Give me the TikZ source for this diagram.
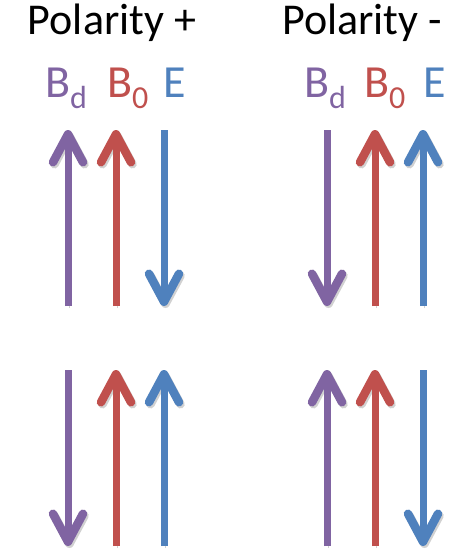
\documentclass[tikz,border=0pt]{standalone}
\usepackage{fontspec}
\setmainfont{Carlito}
\usetikzlibrary{arrows.meta}
\definecolor{bdpurple}{RGB}{128,100,162}
\definecolor{bzred}{RGB}{192,80,77}
\definecolor{efblue}{RGB}{79,129,189}
\newcommand{\lsub}[1]{\raisebox{-0.24em}{\fontsize{32}{36}\selectfont #1}}

\begin{document}
\begin{tikzpicture}[
  x=1pt,y=-1pt,
  ttl/.style={font=\fontsize{44}{52}\selectfont,anchor=base,inner sep=0pt},
  lbl/.style={font=\fontsize{46}{54}\selectfont,anchor=base west,inner sep=0pt},
  vec/.style={line width=7pt,-{Straight Barb[length=28pt,width=30pt,line width=8.5pt,round]},
    preaction={draw=black,opacity=.18,transform canvas={shift={(1.5pt,-2pt)}}}}
]
\useasboundingbox (0,0) rectangle (462,552);

% ---- titles and field labels
\node[ttl] (tplus) at (112,34) {Polarity +};
\node[ttl] (tminus) at (362,34) {Polarity -};
\node[lbl,text=bdpurple] (lbdp) at (45,97) {B\lsub{d}};
\node[lbl,text=bzred] (lb0p) at (107,97) {B\lsub{0}};
\node[lbl,text=efblue] (lep) at (163,97) {E};
\node[lbl,text=bdpurple] (lbdm) at (304,97) {B\lsub{d}};
\node[lbl,text=bzred] (lb0m) at (364,97) {B\lsub{0}};
\node[lbl,text=efblue] (lem) at (423,97) {E};

% ---- end points : polarity +
\coordinate (pa1t) at (68,130);  \coordinate (pa1b) at (68,306);
\coordinate (pb1t) at (116,130); \coordinate (pb1b) at (116,306);
\coordinate (pc1t) at (164,130); \coordinate (pc1b) at (164,306);
\coordinate (pa2t) at (68,370);  \coordinate (pa2b) at (68,546);
\coordinate (pb2t) at (116,370); \coordinate (pb2b) at (116,546);
\coordinate (pc2t) at (164,370); \coordinate (pc2b) at (164,546);
% ---- end points : polarity -
\coordinate (ma1t) at (327,130); \coordinate (ma1b) at (327,306);
\coordinate (mb1t) at (375,130); \coordinate (mb1b) at (375,306);
\coordinate (mc1t) at (423,130); \coordinate (mc1b) at (423,306);
\coordinate (ma2t) at (327,370); \coordinate (ma2b) at (327,546);
\coordinate (mb2t) at (375,370); \coordinate (mb2b) at (375,546);
\coordinate (mc2t) at (423,370); \coordinate (mc2b) at (423,546);

% ---- polarity + arrows
\draw[vec,bdpurple] (pa1b) -- (pa1t);
\draw[vec,bzred] (pb1b) -- (pb1t);
\draw[vec,efblue] (pc1t) -- (pc1b);
\draw[vec,bdpurple] (pa2t) -- (pa2b);
\draw[vec,bzred] (pb2b) -- (pb2t);
\draw[vec,efblue] (pc2b) -- (pc2t);

% ---- polarity - arrows
\draw[vec,bdpurple] (ma1t) -- (ma1b);
\draw[vec,bzred] (mb1b) -- (mb1t);
\draw[vec,efblue] (mc1b) -- (mc1t);
\draw[vec,bdpurple] (ma2b) -- (ma2t);
\draw[vec,bzred] (mb2b) -- (mb2t);
\draw[vec,efblue] (mc2t) -- (mc2b);
\end{tikzpicture}
\end{document}
